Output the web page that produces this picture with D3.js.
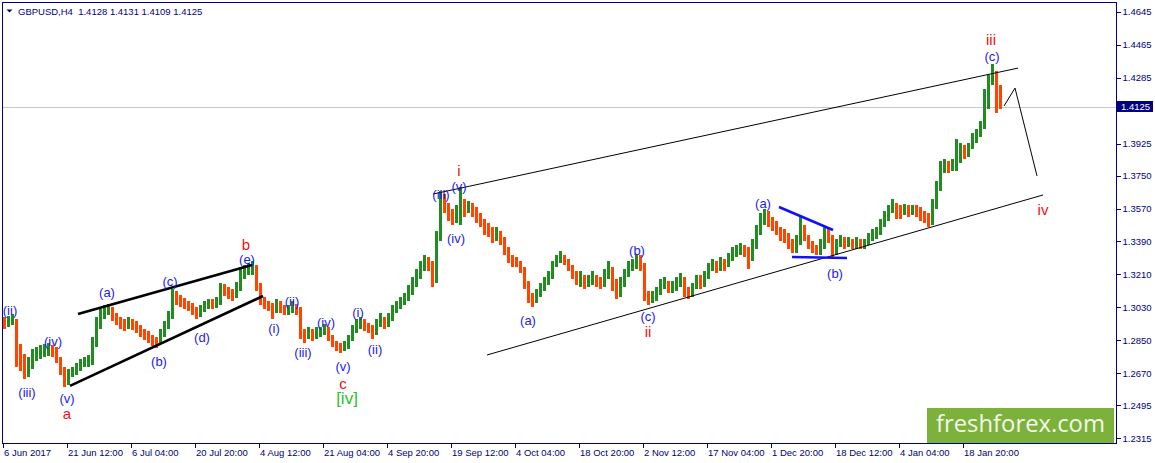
<!DOCTYPE html>
<html><head><meta charset="utf-8">
<script src="https://cdn.jsdelivr.net/npm/d3@7"></script>
<style>body{margin:0;background:#fff;}svg{display:block;}</style>
</head><body><svg id="c" width="1155" height="463"></svg>
<script>
// ---- data (4 H4 bars per entry) ----
const firstOpen = 1.2950;
const closes = [
1.2945,1.2956,1.2967,1.2776,1.2748,1.2683,1.2705,1.2759,1.2770,1.2781,
1.2792,1.2803,1.2792,1.2759,1.2694,1.2628,1.2661,1.2683,1.2694,1.2715,
1.2726,1.2737,1.2830,1.2940,1.2989,1.3010,1.3021,1.2978,1.2956,1.2940,
1.2929,1.2945,1.2934,1.2912,1.2890,1.2874,1.2858,1.2841,1.2836,1.2880,
1.2923,1.2978,1.3098,1.3076,1.3060,1.3049,1.3032,1.3010,1.2989,1.3010,
1.3038,1.3049,1.3043,1.3054,1.3131,1.3120,1.3109,1.3098,1.3131,1.3213,
1.3229,1.3240,1.3251,1.3153,1.3087,1.3054,1.3032,1.3010,1.3043,1.3021,
1.3010,1.3021,1.3032,1.3010,1.2890,1.2880,1.2896,1.2880,1.2890,1.2901,
1.2912,1.2880,1.2836,1.2814,1.2803,1.2819,1.2858,1.2912,1.2934,1.2956,
1.2934,1.2912,1.2890,1.2934,1.2956,1.2940,1.2967,1.3010,1.3032,1.3054,
1.3076,1.3120,1.3158,1.3207,1.3240,1.3284,1.3262,1.3174,1.3404,1.3595,
1.3578,1.3535,1.3513,1.3546,1.3578,1.3567,1.3589,1.3556,1.3524,1.3502,
1.3458,1.3447,1.3415,1.3425,1.3404,1.3360,1.3305,1.3284,1.3273,1.3251,
1.3174,1.3098,1.3065,1.3098,1.3131,1.3164,1.3196,1.3251,1.3284,1.3305,
1.3284,1.3251,1.3218,1.3185,1.3207,1.3164,1.3174,1.3196,1.3174,1.3158,
1.3196,1.3251,1.3185,1.3120,1.3153,1.3207,1.3251,1.3262,1.3284,1.3273,
1.3098,1.3076,1.3087,1.3109,1.3153,1.3164,1.3131,1.3142,1.3164,1.3185,
1.3120,1.3109,1.3131,1.3174,1.3164,1.3196,1.3240,1.3262,1.3251,1.3273,
1.3262,1.3294,1.3327,1.3338,1.3349,1.3338,1.3305,1.3360,1.3447,1.3502,
1.3535,1.3502,1.3480,1.3447,1.3425,1.3415,1.3382,1.3360,1.3382,1.3469,
1.3425,1.3382,1.3349,1.3338,1.3360,1.3436,1.3415,1.3327,1.3371,1.3393,
1.3382,1.3393,1.3371,1.3382,1.3371,1.3382,1.3404,1.3425,1.3436,1.3480,
1.3513,1.3556,1.3589,1.3556,1.3546,1.3567,1.3556,1.3567,1.3556,1.3535,
1.3524,1.3502,1.3589,1.3677,1.3775,1.3808,1.3797,1.3808,1.3818,1.3884,
1.3873,1.3895,1.3939,1.3971,1.4004,1.4113,1.4255,1.4321,1.4212,1.4125];
const highs = [
1.2978,1.2983,1.2994,1.2956,1.2830,1.2776,1.2759,1.2803,1.2814,1.2825,
1.2830,1.2836,1.2825,1.2814,1.2759,1.2705,1.2694,1.2705,1.2726,1.2748,
1.2759,1.2770,1.2869,1.2978,1.3021,1.3043,1.3049,1.3032,1.3000,1.2978,
1.2967,1.2978,1.2967,1.2956,1.2934,1.2912,1.2901,1.2880,1.2869,1.2912,
1.2956,1.3010,1.3131,1.3120,1.3098,1.3082,1.3065,1.3054,1.3032,1.3043,
1.3065,1.3076,1.3076,1.3087,1.3164,1.3158,1.3142,1.3131,1.3169,1.3251,
1.3262,1.3273,1.3284,1.3262,1.3164,1.3087,1.3065,1.3054,1.3076,1.3065,
1.3043,1.3043,1.3065,1.3049,1.3032,1.2912,1.2923,1.2912,1.2923,1.2923,
1.2940,1.2923,1.2880,1.2847,1.2836,1.2847,1.2880,1.2934,1.2967,1.2978,
1.2967,1.2945,1.2934,1.2967,1.3000,1.2978,1.3000,1.3043,1.3065,1.3087,
1.3109,1.3153,1.3196,1.3240,1.3284,1.3316,1.3305,1.3284,1.3447,1.3666,
1.3650,1.3600,1.3567,1.3589,1.3688,1.3622,1.3611,1.3600,1.3578,1.3546,
1.3513,1.3491,1.3469,1.3469,1.3447,1.3415,1.3360,1.3316,1.3305,1.3284,
1.3251,1.3164,1.3109,1.3131,1.3164,1.3196,1.3229,1.3284,1.3316,1.3338,
1.3316,1.3294,1.3262,1.3229,1.3229,1.3207,1.3207,1.3229,1.3207,1.3196,
1.3240,1.3284,1.3251,1.3174,1.3196,1.3240,1.3284,1.3294,1.3322,1.3316,
1.3273,1.3120,1.3120,1.3142,1.3185,1.3196,1.3174,1.3174,1.3196,1.3218,
1.3196,1.3142,1.3164,1.3207,1.3207,1.3229,1.3273,1.3294,1.3284,1.3305,
1.3294,1.3327,1.3360,1.3371,1.3382,1.3371,1.3360,1.3404,1.3480,1.3546,
1.3567,1.3556,1.3524,1.3502,1.3469,1.3458,1.3436,1.3404,1.3425,1.3524,
1.3480,1.3425,1.3393,1.3371,1.3404,1.3469,1.3458,1.3425,1.3404,1.3425,
1.3415,1.3415,1.3404,1.3415,1.3404,1.3404,1.3436,1.3458,1.3469,1.3513,
1.3556,1.3589,1.3622,1.3600,1.3589,1.3595,1.3589,1.3589,1.3589,1.3578,
1.3556,1.3546,1.3622,1.3720,1.3829,1.3840,1.3829,1.3840,1.3950,1.3928,
1.3917,1.3928,1.3982,1.4004,1.4048,1.4223,1.4299,1.4359,1.4321,1.4245];
const lows = [
1.2912,1.2923,1.2934,1.2705,1.2683,1.2639,1.2650,1.2694,1.2737,1.2748,
1.2759,1.2765,1.2759,1.2726,1.2661,1.2596,1.2606,1.2650,1.2661,1.2683,
1.2705,1.2705,1.2715,1.2814,1.2912,1.2967,1.2989,1.2956,1.2934,1.2912,
1.2901,1.2912,1.2907,1.2890,1.2869,1.2852,1.2836,1.2819,1.2808,1.2830,
1.2869,1.2912,1.2967,1.3043,1.3032,1.3021,1.3010,1.2989,1.2967,1.2978,
1.3005,1.3021,1.3021,1.3027,1.3043,1.3093,1.3076,1.3065,1.3082,1.3120,
1.3185,1.3207,1.3207,1.3120,1.3043,1.3021,1.3010,1.2967,1.3000,1.3000,
1.2989,1.2989,1.3000,1.2989,1.2858,1.2836,1.2858,1.2847,1.2858,1.2869,
1.2880,1.2847,1.2814,1.2792,1.2781,1.2792,1.2803,1.2847,1.2890,1.2912,
1.2901,1.2890,1.2858,1.2880,1.2923,1.2912,1.2923,1.2956,1.3000,1.3021,
1.3043,1.3065,1.3098,1.3142,1.3185,1.3229,1.3229,1.3142,1.3164,1.3393,
1.3546,1.3502,1.3480,1.3491,1.3480,1.3524,1.3546,1.3524,1.3491,1.3469,
1.3425,1.3415,1.3382,1.3393,1.3371,1.3316,1.3273,1.3251,1.3251,1.3218,
1.3131,1.3054,1.3032,1.3054,1.3087,1.3120,1.3153,1.3185,1.3251,1.3273,
1.3262,1.3229,1.3185,1.3153,1.3142,1.3131,1.3142,1.3153,1.3142,1.3131,
1.3142,1.3185,1.3120,1.3076,1.3087,1.3142,1.3196,1.3229,1.3240,1.3229,
1.3065,1.3043,1.3054,1.3065,1.3098,1.3131,1.3109,1.3109,1.3120,1.3142,
1.3087,1.3076,1.3087,1.3131,1.3131,1.3142,1.3185,1.3229,1.3218,1.3229,
1.3229,1.3251,1.3284,1.3305,1.3316,1.3305,1.3240,1.3284,1.3349,1.3425,
1.3480,1.3469,1.3447,1.3425,1.3393,1.3382,1.3349,1.3327,1.3327,1.3371,
1.3393,1.3349,1.3327,1.3316,1.3316,1.3349,1.3382,1.3305,1.3316,1.3360,
1.3349,1.3360,1.3349,1.3349,1.3349,1.3349,1.3371,1.3393,1.3404,1.3425,
1.3469,1.3502,1.3546,1.3513,1.3513,1.3535,1.3524,1.3535,1.3524,1.3502,
1.3491,1.3469,1.3480,1.3567,1.3666,1.3764,1.3764,1.3775,1.3775,1.3851,
1.3840,1.3851,1.3895,1.3928,1.3961,1.4004,1.4168,1.4245,1.4092,1.4113];

const timeLabels = ["6 Jun 2017","21 Jun 12:00","6 Jul 04:00","20 Jul 20:00","4 Aug 12:00","21 Aug 04:00","4 Sep 20:00","19 Sep 12:00","4 Oct 04:00","18 Oct 20:00","2 Nov 12:00","17 Nov 04:00","1 Dec 20:00","18 Dec 12:00","4 Jan 04:00","18 Jan 20:00"];
const barsPerLabel = 64;
const priceTicks = [1.4645,1.4465,1.4285,1.3925,1.3750,1.3570,1.3390,1.3210,1.3030,1.2850,1.2670,1.2495,1.2315];
const symbol = "GBPUSD,H4";
const lastQuote = [1.4128,1.4131,1.4109,1.4125];

// wave labels: [H4 bar index, price, text, kind]
const waveLabels = [
[8,1.3011,"(ii)","b"],[25,1.2563,"(iii)","b"],[51,1.2841,"(iv)","b"],[65,1.2530,"(v)","b"],
[105,1.3109,"(a)","b"],[157,1.2737,"(b)","b"],[168,1.3174,"(c)","b"],[200,1.2863,"(d)","b"],[245,1.3294,"(e)","b"],
[272,1.2912,"(i)","b"],[290,1.3060,"(ii)","b"],[301,1.2781,"(iii)","b"],[324,1.2950,"(iv)","b"],[341,1.2705,"(v)","b"],
[356,1.3000,"(i)","b"],[373,1.2798,"(ii)","b"],[439,1.3649,"(iii)","b"],[457,1.3693,"(v)","b"],[454,1.3404,"(iv)","b"],
[526,1.2956,"(a)","b"],[635,1.3338,"(b)","b"],[646,1.2978,"(c)","b"],[761,1.3595,"(a)","b"],[833,1.3213,"(b)","b"],[990,1.4403,"(c)","b"],
[65,1.2448,"a","r"],[244,1.3376,"b","r"],[341,1.2617,"c","r"],[457,1.3775,"i","r"],[646,1.2896,"ii","r"],[989,1.4495,"iii","r"],[1041,1.3567,"iv","r"],
[345,1.2530,"[iv]","g"]];

// drawn lines: [[index, price], ...], style
const drawnLines = [
{pts:[[431,1.3649],[1016,1.4337]], w:1, c:"#000"},
{pts:[[485,1.2770],[1041,1.3644]], w:1, c:"#000"},
{pts:[[76,1.2994],[250,1.3262]], w:2.6, c:"#000"},
{pts:[[68,1.2601],[261,1.3092]], w:2.6, c:"#000"},
{pts:[[777,1.3578],[831,1.3453]], w:2.6, c:"#1010ff"},
{pts:[[790,1.3305],[845,1.3300]], w:2.6, c:"#1010ff"},
{pts:[[1002,1.4130],[1013,1.4228],[1035,1.3748]], w:1, c:"#000"}];

// ---- drawing ----
const svg = d3.select("#c");
const L = 2, R = 1116, T = 2, B = 443;
const navy = "#000080", up = "#228b22", down = "#ff4500";
const xs = d3.scaleLinear().domain([0, 1000]).range([2, 1002]);
const ys = d3.scaleLinear().domain([1.2315, 1.4645]).range([438.3, 11.7]);

svg.append("defs").append("clipPath").attr("id","plot").append("rect")
  .attr("x",L+1).attr("y",T+1).attr("width",R-L-1).attr("height",B-T-1);

// current price line
svg.append("line").attr("x1",L).attr("x2",R)
  .attr("y1",Math.round(ys(lastQuote[3]))+0.5).attr("y2",Math.round(ys(lastQuote[3]))+0.5)
  .attr("stroke","#c8c8c8").attr("stroke-width",1);

const bars = closes.map((c,i)=>({idx:4*i+2, o: i? closes[i-1] : firstOpen, h: highs[i], l: lows[i], c}));
const bg = svg.append("g").attr("clip-path","url(#plot)").attr("shape-rendering","crispEdges");
const colr = b => b.c > b.o ? up : (b.c < b.o ? down : "#000");
bg.selectAll("rect.hl").data(bars).join("rect").attr("class","hl")
  .attr("x", b => Math.round(xs(b.idx)) - 1).attr("width", 3)
  .attr("y", b => Math.round(ys(Math.max(b.h,b.o,b.c))))
  .attr("height", b => Math.max(1, Math.round(ys(Math.min(b.l,b.o,b.c))) - Math.round(ys(Math.max(b.h,b.o,b.c)))))
  .attr("fill", colr);

// drawn lines
const lineGen = d3.line().x(d => xs(d[0])).y(d => ys(d[1]));
svg.append("g").attr("clip-path","url(#plot)").selectAll("path").data(drawnLines).join("path")
  .attr("d", d => lineGen(d.pts)).attr("fill","none")
  .attr("stroke", d => d.c).attr("stroke-width", d => d.w);

// wave labels
const styles = {b:{c:"#1a1af0",s:13}, r:{c:"#f01010",s:15}, g:{c:"#2ec02e",s:17}};
svg.append("g").selectAll("text").data(waveLabels).join("text")
  .attr("x", d => xs(d[0])).attr("y", d => ys(d[1]))
  .attr("text-anchor","middle").attr("dominant-baseline","central")
  .attr("font-family","'Liberation Sans', Arial, sans-serif")
  .attr("font-size", d => styles[d[3]].s).attr("fill", d => styles[d[3]].c)
  .text(d => d[2]);

// watermark
svg.append("rect").attr("x",927).attr("y",408).attr("width",187).attr("height",35).attr("fill","#7cb23c");
svg.append("text").attr("x",936).attr("y",432).attr("font-family","'Open Sans', sans-serif")
  .attr("font-size",24).attr("fill","#f3f8ea").attr("textLength",169).attr("lengthAdjust","spacingAndGlyphs")
  .text("freshforex.com");

// frame
svg.append("rect").attr("x",L+0.5).attr("y",T+0.5).attr("width",R-L).attr("height",B-T)
  .attr("fill","none").attr("stroke",navy).attr("stroke-width",1).attr("shape-rendering","crispEdges");

// x axis
const xAxis = d3.axisBottom(xs).tickValues(timeLabels.map((t,i)=>i*barsPerLabel))
  .tickFormat((d,i)=>timeLabels[i]).tickSize(4).tickPadding(2);
const gx = svg.append("g").attr("transform",`translate(0.5,${B+0.5})`).call(xAxis);
gx.select(".domain").remove();
gx.selectAll("line").attr("stroke",navy).attr("shape-rendering","crispEdges");
gx.selectAll("text").attr("text-anchor","start").attr("dx",1).attr("fill",navy)
  .attr("font-family","'Liberation Sans', Arial, sans-serif").attr("font-size",9.5);

// y axis
const yAxis = d3.axisRight(ys).tickValues(priceTicks).tickFormat(d3.format(".4f")).tickSize(4).tickPadding(2);
const gy = svg.append("g").attr("transform",`translate(${R+0.5},0)`).call(yAxis);
gy.select(".domain").remove();
gy.selectAll("line").attr("stroke",navy).attr("shape-rendering","crispEdges");
gy.selectAll("text").attr("fill",navy).attr("font-family","'Liberation Sans', Arial, sans-serif").attr("font-size",9.5);

// current price tag
const py = ys(lastQuote[3]);
svg.append("rect").attr("x",R+1).attr("y",Math.round(py)-6).attr("width",36).attr("height",11).attr("fill",navy);
svg.append("text").attr("x",R+5).attr("y",py).attr("dominant-baseline","central").attr("fill","#fff")
  .attr("font-family","'Liberation Sans', Arial, sans-serif").attr("font-size",9.5).text(d3.format(".4f")(lastQuote[3]));

// header
svg.append("path").attr("d","M6.5,9.5 L12.5,9.5 L9.5,12.5 Z").attr("fill",navy);
svg.append("text").attr("x",18).attr("y",14.5).attr("fill",navy).style("white-space","pre")
  .attr("font-family","'Liberation Sans', Arial, sans-serif").attr("font-size",9.5)
  .text(symbol + "  " + lastQuote.map(d3.format(".4f")).join(" "));
</script></body></html>
